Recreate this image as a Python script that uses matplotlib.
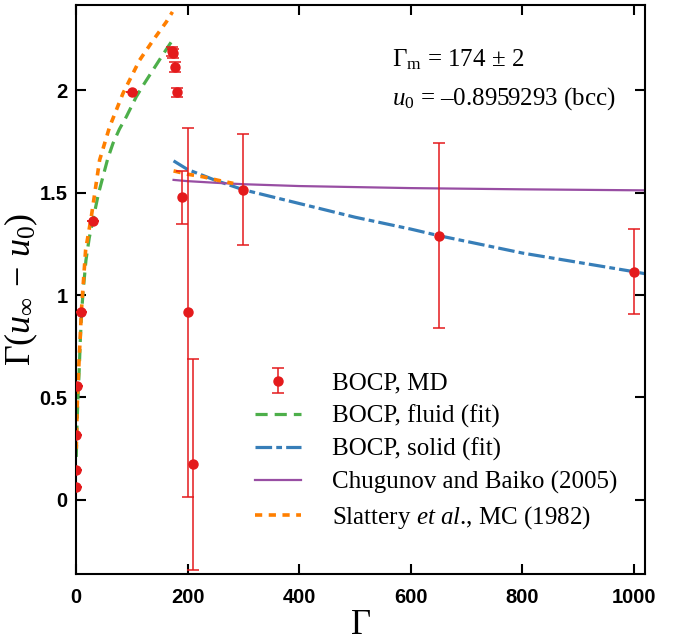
import matplotlib
matplotlib.use("Agg")
import matplotlib.pyplot as plt
from matplotlib.ticker import FixedLocator, FuncFormatter

# colours (Set1)
RED = "#E41A1C"
GREEN = "#4DAF4A"
BLUE = "#377EB8"
PURPLE = "#984EA3"
ORANGE = "#FF7F00"

# MD data points
md_gamma = [0.1, 0.3, 1, 2, 10, 30, 100, 172, 174, 177, 181, 190, 200, 210, 300, 650, 1000]
md_value = [0.062, 0.146, 0.317, 0.556, 0.916, 1.362, 1.989, 2.19, 2.18, 2.114, 1.989,
            1.477, 0.916, 0.174, 1.514, 1.29, 1.114]
md_error = [0.0, 0.0, 0.0, 0.0, 0.0, 0.0, 0.0, 0.022, 0.022, 0.024, 0.023,
            0.13, 0.9, 0.515, 0.27, 0.45, 0.207]

# fluid fit
fluid_gamma = [0.7, 2, 3.6, 6, 7.9, 10, 12.6, 18, 24, 30.6, 40, 48.4, 57, 66.4, 78, 90.3,
               108, 122, 138, 155, 171, 175]
fluid_value = [0.21, 0.37, 0.49, 0.64, 0.78, 0.9, 1.008, 1.17, 1.28, 1.366, 1.49, 1.577,
               1.665, 1.74, 1.81, 1.87, 1.967, 2.03, 2.098, 2.17, 2.236, 2.25]

# solid fit
solid_gamma = [175, 200, 250, 300, 400, 500, 600, 650, 800, 1000, 1020]
solid_value = [1.655, 1.613, 1.56, 1.514, 1.447, 1.38, 1.322, 1.29, 1.205, 1.114, 1.104]

# Chugunov and Baiko (2005)
cb_gamma = [175, 200, 250, 300, 400, 600, 800, 1020]
cb_value = [1.562, 1.556, 1.548, 1.541, 1.532, 1.522, 1.516, 1.511]

# Slattery et al. (1982), fluid and solid branches
sl_fluid_gamma = [0.7, 2, 3.6, 6.6, 10, 17.4, 27.6, 42.5, 60.4, 84.3, 114, 140, 162, 173]
sl_fluid_value = [0.25, 0.42, 0.56, 0.73, 0.93, 1.22, 1.382, 1.659, 1.821, 1.984, 2.146,
                  2.25, 2.333, 2.382]
sl_solid_gamma = [175, 200, 228, 255, 282]
sl_solid_value = [1.606, 1.59, 1.577, 1.56, 1.545]

x_ticks = [0, 200, 400, 600, 800, 1000]
y_ticks = [0, 0.5, 1, 1.5, 2]

plt.rcParams["mathtext.fontset"] = "custom"
plt.rcParams["mathtext.rm"] = "Liberation Serif"
plt.rcParams["mathtext.it"] = "Liberation Serif:italic"
plt.rcParams["axes.linewidth"] = 1.5

fig = plt.figure(figsize=(6.9, 6.43), dpi=100)
ax = fig.add_axes([0.110, 0.107, 0.825, 0.885])

ax.plot(fluid_gamma, fluid_value, color=GREEN, lw=2.3, dashes=(3.8, 2.2),
        label="BOCP, fluid (fit)")
ax.plot(sl_fluid_gamma, sl_fluid_value, color=ORANGE, lw=2.6, dashes=(2.0, 1.8))
ax.plot(solid_gamma, solid_value, color=BLUE, lw=2.3, dashes=(5.2, 1.3, 1.8, 1.3),
        label="BOCP, solid (fit)")
ax.plot(cb_gamma, cb_value, color=PURPLE, lw=1.6, label="Chugunov and Baiko (2005)")
sl_label = r"Slattery $\mathit{et\ al}$., MC (1982)"
ax.plot(sl_solid_gamma, sl_solid_value, color=ORANGE, lw=2.6, dashes=(2.0, 1.8),
        label=sl_label)
ax.errorbar(md_gamma, md_value, yerr=md_error, fmt="o", color=RED, ms=6.5,
            elinewidth=1.1, capsize=4, capthick=1.1, label="BOCP, MD", zorder=5)

ax.set_xlim(0, 1020)
ax.set_ylim(-0.3625, 2.415)
ax.xaxis.set_major_locator(FixedLocator(x_ticks))
ax.yaxis.set_major_locator(FixedLocator(y_ticks))
ax.yaxis.set_major_formatter(FuncFormatter(lambda v, p: f"{v:g}"))
ax.tick_params(direction="in", length=7, width=1.5, top=True, right=True,
               labelsize=14.5)
ax.tick_params(axis="x", pad=10)
ax.tick_params(axis="y", pad=6)
for lab in ax.get_xticklabels() + ax.get_yticklabels():
    lab.set_fontfamily("Liberation Sans")
    lab.set_fontweight("bold")

ax.set_xlabel(r"$\Gamma$", fontsize=25, labelpad=0)
ax.set_ylabel(r"$\Gamma(u_\infty\,-\,u_0)$", fontsize=26, labelpad=0)

# annotations, x position given in pixels -> data units
ann_x = (392 - 76.3) / 0.5577
ax.text(ann_x, 2.15, r"$\Gamma_\mathrm{m}$ = 174 ± 2", fontsize=18,
        family="Liberation Serif", va="center")
ax.text(ann_x, 1.96, r"$u_0$ = –0.8959293 (bcc)", fontsize=18,
        family="Liberation Serif", va="center")

handles, labels = ax.get_legend_handles_labels()
order = [labels.index(k) for k in ["BOCP, MD", "BOCP, fluid (fit)", "BOCP, solid (fit)",
                                   "Chugunov and Baiko (2005)", sl_label]]
ax.legend([handles[i] for i in order], [labels[i] for i in order],
          loc="upper left", bbox_to_anchor=(255 / 690, 1 - 372 / 643),
          bbox_transform=fig.transFigure, frameon=False, borderpad=0,
          borderaxespad=0, handlelength=1.85, handletextpad=1.25,
          labelspacing=0.40, prop={"family": "Liberation Serif", "size": 18})

fig.savefig("out.png", dpi=100)
